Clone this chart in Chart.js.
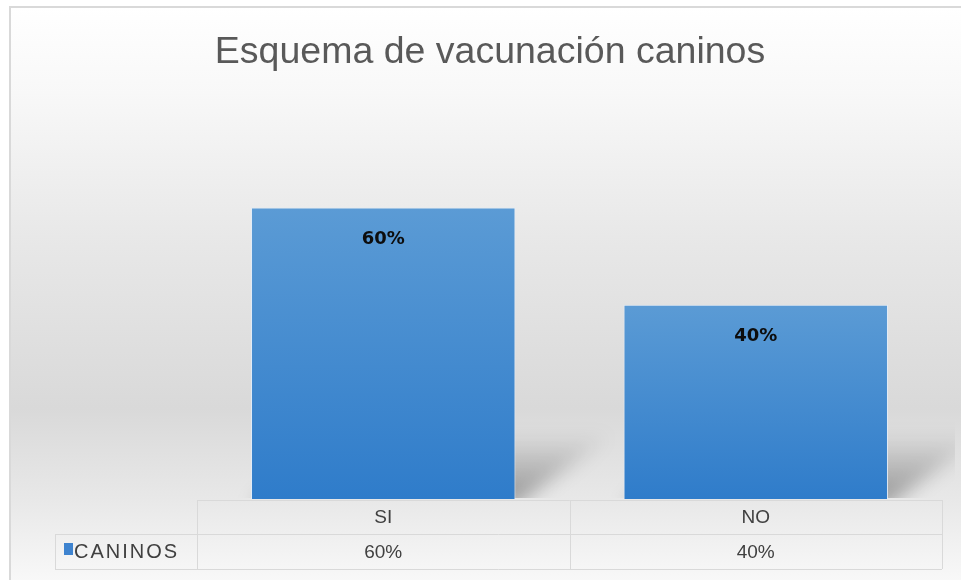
<!DOCTYPE html>
<html><head><meta charset="utf-8">
<script src="https://cdn.jsdelivr.net/npm/chart.js@4/dist/chart.umd.min.js"></script>
<style>html,body{margin:0;padding:0;background:#fff;overflow:hidden}#wrap{width:961px;height:580px;position:relative}</style>
</head><body><div id="wrap"><canvas id="c" width="961" height="580"></canvas></div>
<script>
const titleText = 'Esquema de vacunación caninos';
const categories = ['SI', 'NO'];
const seriesName = 'CANINOS';
const values = [0.60, 0.40];
const pct = v => Math.round(v * 100) + '%';

const bgPlugin = {
  id: 'bg',
  beforeDraw(chart) {
    const ctx = chart.ctx, W = chart.width, H = chart.height;
    ctx.save();
    ctx.fillStyle = '#ffffff';
    ctx.fillRect(0, 0, W, H);
    const g = ctx.createLinearGradient(0, 7, 0, H);
    g.addColorStop(0.00, '#ffffff');
    g.addColorStop(0.15, '#f8f8f8');
    g.addColorStop(0.40, '#e8e8e8');
    g.addColorStop(0.70, '#d9d9d9');
    g.addColorStop(0.86, '#e8e8e8');
    g.addColorStop(1.00, '#f8f8f8');
    ctx.fillStyle = g;
    ctx.fillRect(10, 7, W - 10, H - 7);
    ctx.strokeStyle = '#d9d9d9';
    ctx.lineWidth = 2;
    ctx.beginPath();
    ctx.moveTo(10, H); ctx.lineTo(10, 7); ctx.lineTo(W, 7);
    ctx.stroke();
    // title
    ctx.fillStyle = '#595959';
    ctx.font = '37.5px "Liberation Sans", Arial, sans-serif';
    ctx.textAlign = 'center';
    ctx.textBaseline = 'alphabetic';
    ctx.fillText(titleText, 490, 63);
    ctx.restore();
  }
};

const shadowPlugin = {
  id: 'shadow',
  beforeDatasetsDraw(chart) {
    const ctx = chart.ctx;
    const meta = chart.getDatasetMeta(0);
    ctx.save();
    ctx.beginPath();
    ctx.rect(0, 0, 955, chart.chartArea.bottom - 1);
    ctx.clip();
    meta.data.forEach(bar => {
      const w = bar.width, l = bar.x - w / 2, r = bar.x + w / 2, b = bar.base;
      const dx = 100, dy = -66;
      const g = ctx.createLinearGradient(0, b, 0, b + dy);
      g.addColorStop(0, 'rgba(0,0,0,0.34)');
      g.addColorStop(0.6, 'rgba(0,0,0,0.14)');
      g.addColorStop(1, 'rgba(0,0,0,0.0)');
      ctx.filter = 'blur(9px)';
      ctx.fillStyle = g;
      ctx.beginPath();
      ctx.moveTo(l, b + 6); ctx.lineTo(r, b + 6); ctx.lineTo(r + dx, b + dy); ctx.lineTo(l + dx, b + dy);
      ctx.closePath();
      ctx.fill();
    });
    ctx.restore();
  }
};

const labelPlugin = {
  id: 'labels',
  afterDatasetsDraw(chart) {
    const ctx = chart.ctx;
    const meta = chart.getDatasetMeta(0);
    ctx.save();
    ctx.font = 'bold 18px "DejaVu Sans", sans-serif';
    ctx.fillStyle = '#0d0d0d';
    ctx.textAlign = 'center';
    ctx.textBaseline = 'middle';
    meta.data.forEach((bar, i) => {
      ctx.fillText(pct(values[i]), bar.x, bar.y + 32);
    });
    ctx.restore();
  }
};

const tablePlugin = {
  id: 'table',
  afterDraw(chart) {
    const ctx = chart.ctx, xs = chart.scales.x, area = chart.chartArea;
    const top = area.bottom + 1, mid = top + 34, bot = mid + 35;
    const left0 = area.left, right0 = area.right, legL = 55;
    ctx.save();
    ctx.strokeStyle = '#d9d9d9';
    ctx.lineWidth = 1;
    ctx.beginPath();
    ctx.moveTo(left0, top + 0.5); ctx.lineTo(right0, top + 0.5);
    ctx.moveTo(legL, mid + 0.5); ctx.lineTo(right0, mid + 0.5);
    ctx.moveTo(legL, bot + 0.5); ctx.lineTo(right0, bot + 0.5);
    ctx.moveTo(left0 + 0.5, top); ctx.lineTo(left0 + 0.5, bot);
    ctx.moveTo(legL + 0.5, mid); ctx.lineTo(legL + 0.5, bot);
    const cw = (right0 - left0) / categories.length;
    for (let i = 1; i <= categories.length; i++) {
      const x = Math.round(left0 + i * cw) + 0.5;
      ctx.moveTo(x, top); ctx.lineTo(x, bot);
    }
    ctx.stroke();
    ctx.fillStyle = '#404040';
    ctx.font = '19px "Liberation Sans", Arial, sans-serif';
    ctx.textAlign = 'center';
    ctx.textBaseline = 'middle';
    categories.forEach((c, i) => {
      const x = xs.getPixelForValue(i);
      ctx.fillText(c, x, (top + mid) / 2 + 1);
      ctx.fillText(pct(values[i]), x, (mid + bot) / 2 + 1);
    });
    ctx.fillStyle = '#3e83cf';
    ctx.fillRect(64, 543, 9, 12);
    ctx.fillStyle = '#404040';
    ctx.textAlign = 'left';
    ctx.font = '20px "Liberation Sans", Arial, sans-serif';
    try { ctx.letterSpacing = '2px'; } catch (e) {}
    ctx.fillText(seriesName, 74, (mid + bot) / 2 + 1);
    ctx.restore();
  }
};

function barFill(context) {
  const chart = context.chart;
  if (!chart.chartArea) return '#4a8fd3';
  const ys = chart.scales.y;
  const yTop = ys.getPixelForValue(values[context.dataIndex]);
  const yBot = ys.getPixelForValue(0);
  const g = chart.ctx.createLinearGradient(0, yTop, 0, yBot);
  g.addColorStop(0, '#5b9bd5');
  g.addColorStop(1, '#2f7cca');
  return g;
}

new Chart(document.getElementById('c'), {
  type: 'bar',
  data: {
    labels: categories,
    datasets: [{
      label: seriesName,
      data: values,
      backgroundColor: barFill,
      borderColor: 'rgba(225,236,248,0.9)',
      borderWidth: 1,
      barPercentage: 0.71,
      categoryPercentage: 1.0
    }]
  },
  options: {
    responsive: false,
    animation: false,
    devicePixelRatio: 1,
    layout: { padding: { left: 197, right: 19, top: 159, bottom: 81 } },
    scales: {
      x: { display: false },
      y: { display: false, min: 0, max: 0.7 }
    },
    plugins: {
      legend: { display: false },
      tooltip: { enabled: false },
      title: { display: false }
    }
  },
  plugins: [bgPlugin, shadowPlugin, labelPlugin, tablePlugin]
});
</script>
</body></html>
